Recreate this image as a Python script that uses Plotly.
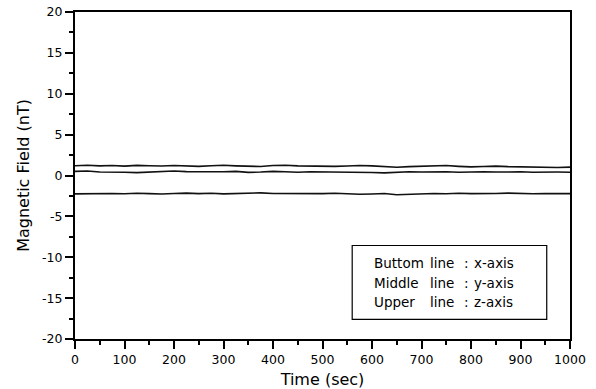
import plotly.graph_objects as go

time_sec = [0, 25, 50, 75, 100, 125, 150, 175, 200, 225, 250, 275, 300, 325, 350, 375,
            400, 425, 450, 475, 500, 525, 550, 575, 600, 625, 650, 675, 700, 725, 750,
            775, 800, 825, 850, 875, 900, 925, 950, 975, 1000]

z_axis = [1.20, 1.25, 1.18, 1.22, 1.15, 1.24, 1.20, 1.16, 1.22, 1.18, 1.12, 1.20, 1.25,
          1.18, 1.14, 1.10, 1.22, 1.26, 1.18, 1.15, 1.20, 1.12, 1.16, 1.22, 1.18, 1.05,
          1.00, 1.08, 1.12, 1.15, 1.22, 1.12, 1.05, 1.10, 1.15, 1.08, 1.05, 1.10, 1.00,
          0.98, 1.02]

y_axis = [0.50, 0.55, 0.42, 0.45, 0.40, 0.35, 0.42, 0.50, 0.55, 0.48, 0.45, 0.42, 0.46,
          0.50, 0.38, 0.42, 0.50, 0.45, 0.40, 0.46, 0.45, 0.48, 0.42, 0.44, 0.36, 0.32,
          0.40, 0.45, 0.42, 0.48, 0.45, 0.40, 0.44, 0.45, 0.42, 0.48, 0.45, 0.40, 0.44,
          0.42, 0.40]

x_axis = [-2.25, -2.22, -2.28, -2.20, -2.24, -2.18, -2.22, -2.26, -2.20, -2.15, -2.22,
          -2.18, -2.25, -2.22, -2.18, -2.12, -2.20, -2.22, -2.25, -2.20, -2.22, -2.18,
          -2.24, -2.30, -2.26, -2.20, -2.35, -2.28, -2.22, -2.20, -2.24, -2.18, -2.22,
          -2.25, -2.20, -2.15, -2.20, -2.24, -2.20, -2.25, -2.22]

y_tickvals = [-20, -15, -10, -5, 0, 5, 10, 15, 20]
y_ticktext = ["-20", "-15", "-10", "-5", "0", "5", "10", "15", "20"]

legend_names = ["Buttom", "Middle", "Upper"]
legend_axes = ["x-axis", "y-axis", "z-axis"]

fig = go.Figure()
for vals in (x_axis, y_axis, z_axis):
    fig.add_trace(go.Scatter(x=time_sec, y=vals, mode="lines",
                             line=dict(color="#111111", width=1.6), showlegend=False))

wide = "DejaVu Sans, Verdana, sans-serif"
font = dict(family=wide, size=12.5, color="black")

axis_common = dict(showline=True, linecolor="black", linewidth=2, mirror=True,
                   ticks="outside", ticklen=8, tickwidth=1.5, tickcolor="black",
                   showgrid=False, zeroline=False, automargin=False,
                   tickfont=dict(family=wide, size=12.5, color="black"))

fig.update_layout(
    width=596, height=389,
    margin=dict(l=75, r=26, t=12, b=50),
    plot_bgcolor="white", paper_bgcolor="white",
    font=font,
    xaxis=dict(range=[0, 1000], tick0=0, dtick=100,
               minor=dict(dtick=50, ticklen=4, tickcolor="black", ticks="outside"),
               title=dict(text="Time (sec)", font=dict(family=wide, size=16), standoff=9),
               **axis_common),
    yaxis=dict(range=[-20, 20], tickmode="array", tickvals=y_tickvals, ticktext=y_ticktext,
               minor=dict(dtick=2.5, tick0=0, ticklen=4, tickcolor="black", ticks="outside"),
               title=dict(text="Magnetic Field (nT)", font=dict(family=wide, size=16), standoff=8),
               **axis_common),
)

# legend box
fig.add_shape(type="rect", xref="x", yref="y", x0=560, x1=953, y0=-17.61, y1=-8.56,
              line=dict(color="black", width=1.2), fillcolor="white")
rows_y = [-10.7, -13.15, -15.5]
lf = dict(family=wide, size=13.5, color="black")
for name, ax, yy in zip(legend_names, legend_axes, rows_y):
    fig.add_annotation(x=600, y=yy, xref="x", yref="y", text=name, showarrow=False,
                       xanchor="left", yanchor="middle", font=lf)
    fig.add_annotation(x=713, y=yy, xref="x", yref="y", text="line", showarrow=False,
                       xanchor="left", yanchor="middle", font=lf)
    fig.add_annotation(x=782, y=yy, xref="x", yref="y", text=":", showarrow=False,
                       xanchor="left", yanchor="middle", font=lf)
    fig.add_annotation(x=802, y=yy, xref="x", yref="y", text=ax, showarrow=False,
                       xanchor="left", yanchor="middle", font=lf)

fig.write_html("out.html", config={"displayModeBar": False},
               post_script="document.body.style.margin='0';")
